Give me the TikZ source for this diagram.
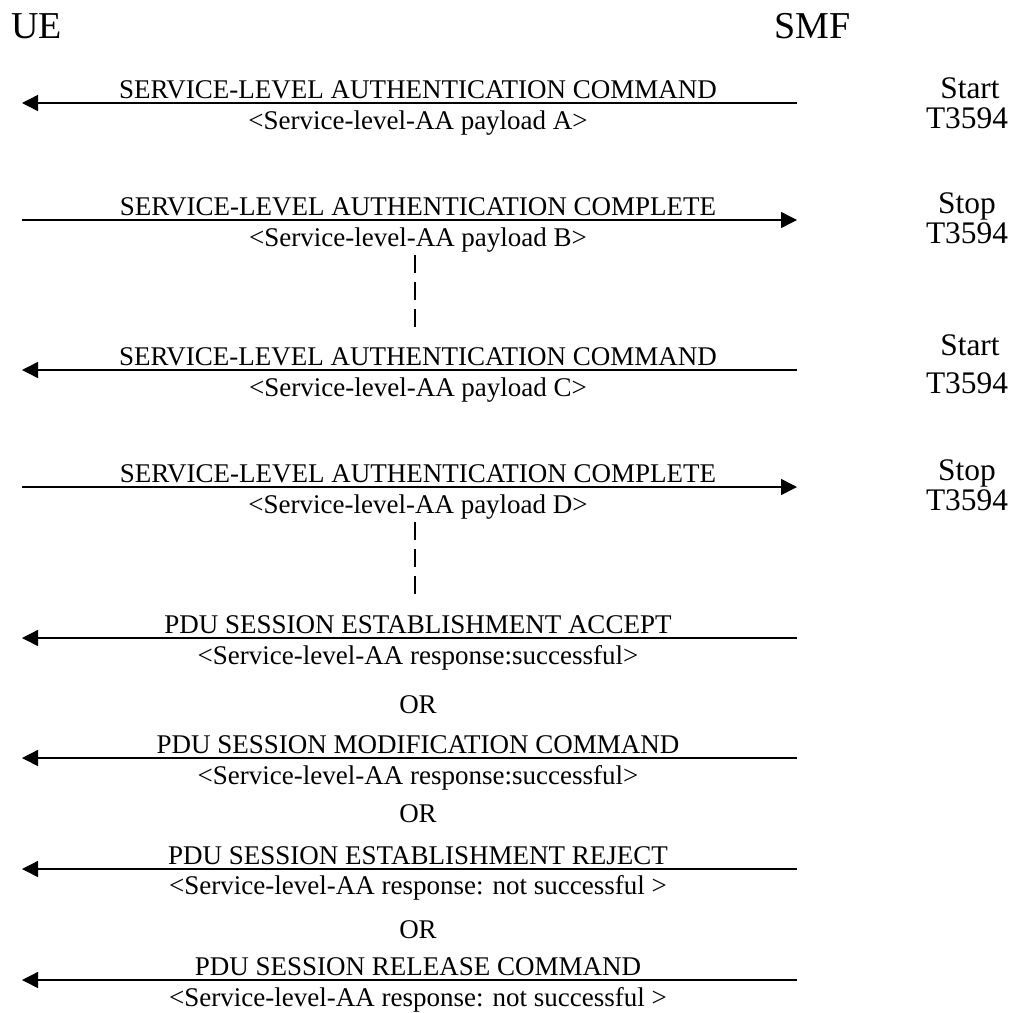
\documentclass[tikz,border=0pt]{standalone}
\usepackage{fontspec}
\setmainfont{Liberation Serif}
\usetikzlibrary{arrows.meta, positioning}

\tikzset{
  msg/.style={-{Triangle[length=8pt,width=8pt]}, line width=0.7pt},
  lbl/.style={anchor=base, inner sep=0pt, font=\fontsize{13.5}{16}\selectfont},
  timer/.style={anchor=base, inner sep=0pt, font=\fontsize{15.7}{18}\selectfont},
  entity/.style={anchor=base west, inner sep=0pt, font=\fontsize{19}{22}\selectfont},
  wait/.style={line width=1pt, dash pattern=on 9pt off 4.5pt}
}

\begin{document}
\begin{tikzpicture}[x=0.5pt, y=-0.5pt]
  \useasboundingbox (0,0) rectangle (1015,1012);

  % entities
  \node[entity] (ue) at (11,38) {UE};
  \node[entity] (smf) at (774,38) {SMF};

  % end points of the messages
  \coordinate (ueA) at (22,103);  \coordinate (smfA) at (797,103);
  \coordinate (ueB) at (22,220);  \coordinate (smfB) at (797,220);
  \coordinate (ueC) at (22,370);  \coordinate (smfC) at (797,370);
  \coordinate (ueD) at (22,487);  \coordinate (smfD) at (797,487);
  \coordinate (ueE) at (22,638);  \coordinate (smfE) at (797,638);
  \coordinate (ueF) at (22,758);  \coordinate (smfF) at (797,758);
  \coordinate (ueG) at (22,869);  \coordinate (smfG) at (797,869);
  \coordinate (ueH) at (22,980);  \coordinate (smfH) at (797,980);

  % authentication rounds
  \draw[msg] (smfA) -- (ueA);
  \node[lbl] (cmdA) at (418,98) {SERVICE-LEVEL AUTHENTICATION COMMAND};
  \node[lbl] (payA) at (418,129) {<Service-level-AA payload A>};
  \node[timer] (startA) at (970,98) {Start};
  \node[timer] (tA) at (967,128) {T3594};

  \draw[msg] (ueB) -- (smfB);
  \node[lbl] (cplB) at (418,215) {SERVICE-LEVEL AUTHENTICATION COMPLETE};
  \node[lbl] (payB) at (418,246) {<Service-level-AA payload B>};
  \node[timer] (stopB) at (967,213) {Stop};
  \node[timer] (tB) at (967,243) {T3594};

  \coordinate (waitA) at (415,255);
  \coordinate (waitB) at (415,328);
  \draw[wait] (waitA) -- (waitB);

  \draw[msg] (smfC) -- (ueC);
  \node[lbl] (cmdC) at (418,365) {SERVICE-LEVEL AUTHENTICATION COMMAND};
  \node[lbl] (payC) at (418,396) {<Service-level-AA payload C>};
  \node[timer] (startC) at (970,355) {Start};
  \node[timer] (tC) at (967,393) {T3594};

  \draw[msg] (ueD) -- (smfD);
  \node[lbl] (cplD) at (418,482) {SERVICE-LEVEL AUTHENTICATION COMPLETE};
  \node[lbl] (payD) at (418,513) {<Service-level-AA payload D>};
  \node[timer] (stopD) at (967,480) {Stop};
  \node[timer] (tD) at (967,510) {T3594};

  \coordinate (waitC) at (415,522);
  \coordinate (waitD) at (415,595);
  \draw[wait] (waitC) -- (waitD);

  % outcome
  \draw[msg] (smfE) -- (ueE);
  \node[lbl] (accE) at (418,633) {PDU SESSION ESTABLISHMENT ACCEPT};
  \node[lbl] (resE) at (418,664) {<Service-level-AA response:successful>};
  \node[lbl] (orE) at (418,713) {OR};

  \draw[msg] (smfF) -- (ueF);
  \node[lbl] (modF) at (418,753) {PDU SESSION MODIFICATION COMMAND};
  \node[lbl] (resF) at (418,784) {<Service-level-AA response:successful>};
  \node[lbl] (orF) at (418,822) {OR};

  \draw[msg] (smfG) -- (ueG);
  \node[lbl] (rejG) at (418,864) {PDU SESSION ESTABLISHMENT REJECT};
  \node[lbl] (resG) at (418,894) {<Service-level-AA response: not successful >};
  \node[lbl] (orG) at (418,938) {OR};

  \draw[msg] (smfH) -- (ueH);
  \node[lbl] (relH) at (418,975) {PDU SESSION RELEASE COMMAND};
  \node[lbl] (resH) at (418,1006) {<Service-level-AA response: not successful >};
\end{tikzpicture}
\end{document}
